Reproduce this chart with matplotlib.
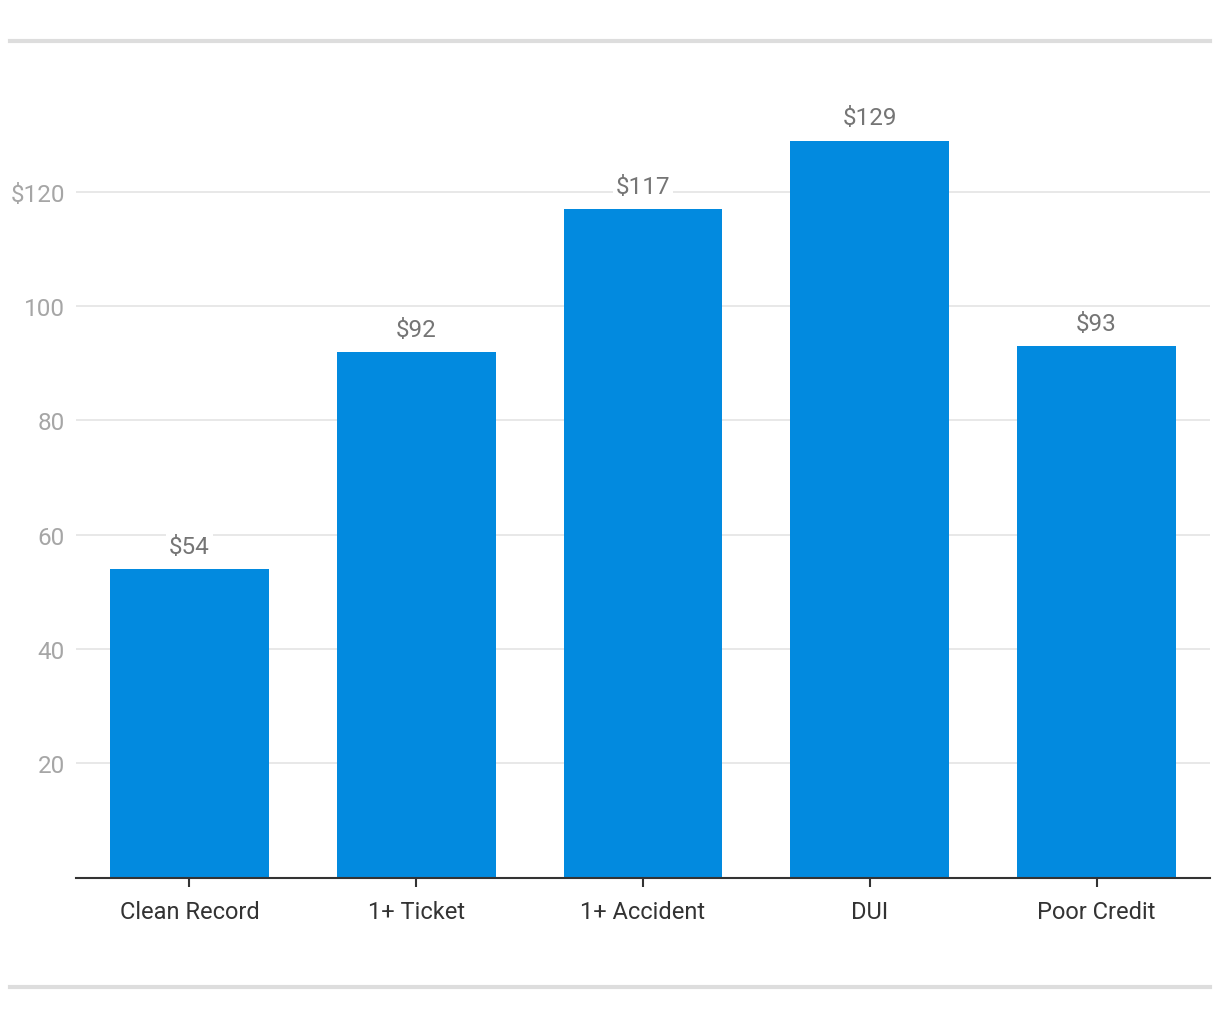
import matplotlib
matplotlib.use("Agg")
import matplotlib.pyplot as plt
from matplotlib.lines import Line2D

categories = ["Clean Record", "1+ Ticket", "1+ Accident", "DUI", "Poor Credit"]
premiums = [54, 92, 117, 129, 93]
y_ticks = [20, 40, 60, 80, 100, 120]
y_tick_labels = ["20", "40", "60", "80", "100", "$120"]

plt.rcParams['font.family'] = ['Roboto', 'DejaVu Sans']

W, H = 1220, 1020
fig = plt.figure(figsize=(W / 100, H / 100), dpi=100)
ax = fig.add_axes([76 / W, (H - 878.5) / H, 1134 / W, 799.8 / H])

x = list(range(len(categories)))
ax.bar(x, premiums, width=0.70, color="#028ADF", zorder=2)

for xi, v in zip(x, premiums):
    ax.annotate(f"${v}", (xi, v), xytext=(0, 8), textcoords="offset points",
                ha="center", va="bottom", fontsize=17.5, color="#757575",
                bbox=dict(boxstyle="square,pad=0.12", fc="white", ec="none"),
                zorder=3)

ax.set_xlim(-0.5, len(categories) - 0.5)
ax.set_ylim(0, 140)
ax.set_yticks(y_ticks)
ax.set_yticklabels(y_tick_labels)
ax.set_xticks(x)
ax.set_xticklabels(categories)
ax.yaxis.grid(True, color="#e6e6e6", linewidth=1.3, zorder=0)
ax.set_axisbelow(True)

for s in ["top", "right", "left"]:
    ax.spines[s].set_visible(False)
ax.spines["bottom"].set_color("#333333")
ax.spines["bottom"].set_linewidth(1.5)

ax.tick_params(axis="y", length=0, pad=8, labelsize=17.5, labelcolor="#a6a6a6")
ax.tick_params(axis="x", length=6.5, width=1.5, color="#333333", pad=10,
               labelsize=17, labelcolor="#333333")

# grey rules above and below the chart
for yy in (42, 988):
    fig.add_artist(Line2D([10 / W, 1210 / W], [1 - yy / H, 1 - yy / H],
                          color="#dddddd", linewidth=3))

fig.savefig("out.png", dpi=100, facecolor="white")
